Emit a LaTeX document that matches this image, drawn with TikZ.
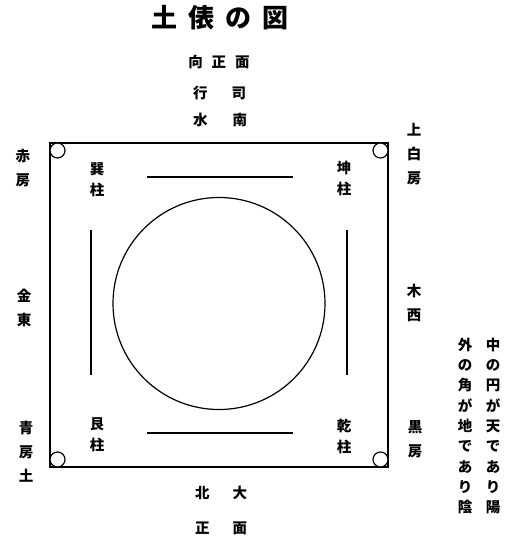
\documentclass[tikz,border=0pt]{standalone}
\usepackage{fontspec}
\newfontfamily\cjk{Noto Sans CJK JP}
\begin{document}
\begin{tikzpicture}[x=1pt,y=-1pt,
  lbl/.style={font=\cjk\bfseries\fontsize{14.5}{24}\selectfont, align=center, inner sep=0pt},
  pil/.style={font=\cjk\bfseries\fontsize{14.5}{21}\selectfont, align=center, inner sep=0pt},
  note/.style={font=\cjk\bfseries\fontsize{14.5}{20.3}\selectfont, align=center, inner sep=0pt},
  hd/.style={font=\cjk\bfseries\fontsize{14.5}{18}\selectfont, inner sep=0pt},
  ttl/.style={font=\cjk\bfseries\fontsize{26}{30}\selectfont, inner sep=0pt},
  frame/.style={line width=1.8pt},
  post/.style={line width=1.2pt, fill=white},
  bar/.style={line width=1.3pt},
  ring/.style={line width=1.2pt}]
\useasboundingbox[fill=white] (0,0) rectangle (513,540);
% frame
\draw[frame] (50,143) rectangle (388,467);
% corner posts
\draw[post] (57.5,150.5) circle (7.5);
\draw[post] (380.5,150.5) circle (7.5);
\draw[post] (57.5,459.5) circle (7.5);
\draw[post] (380.5,459.5) circle (7.5);
% inner circle
\draw[ring] (219,303.5) circle (106);
% bars
\draw[bar] (147,177) -- (293,177);
\draw[bar] (147,433) -- (293,433);
\draw[bar] (91,230) -- (91,375);
\draw[bar] (347,230) -- (347,375);
% title & headings
\node[ttl] (title) at (220,18) {土\kern11pt 俵\kern11pt の\kern11pt 図};
\node[hd] (h1) at (219,62) {向\kern9pt 正\kern9pt 面};
\node[hd] (h2) at (219.5,93) {行\kern24pt 司};
\node[hd] (h3) at (220,120) {水\kern25pt 南};
\node[hd] (b1) at (221,493) {北\kern23pt 大};
\node[hd] (b2) at (221,528) {正\kern23pt 面};
% pillars
\node[pil] (p1) at (97,180) {巽\\柱};
\node[pil] (p2) at (344,178) {坤\\柱};
\node[pil] (p3) at (97,435) {艮\\柱};
\node[pil] (p4) at (344,436) {乾\\柱};
% sides
\node[lbl] (l1) at (23,168.5) {赤\\房};
\node[lbl] (l2) at (24,307.5) {金\\東};
\node[lbl] (l3) at (26,452) {青\\房\\土};
\node[lbl] (r1) at (414,154) {上\\白\\房};
\node[lbl] (r2) at (414,302.5) {木\\西};
\node[lbl] (r3) at (415,439.5) {黒\\房};
% note
\node[note] (n1) at (493,426) {中\\の\\円\\が\\天\\で\\あ\\り\\陽};
\node[note] (n2) at (465,426) {外\\の\\角\\が\\地\\で\\あ\\り\\陰};
\end{tikzpicture}
\end{document}
